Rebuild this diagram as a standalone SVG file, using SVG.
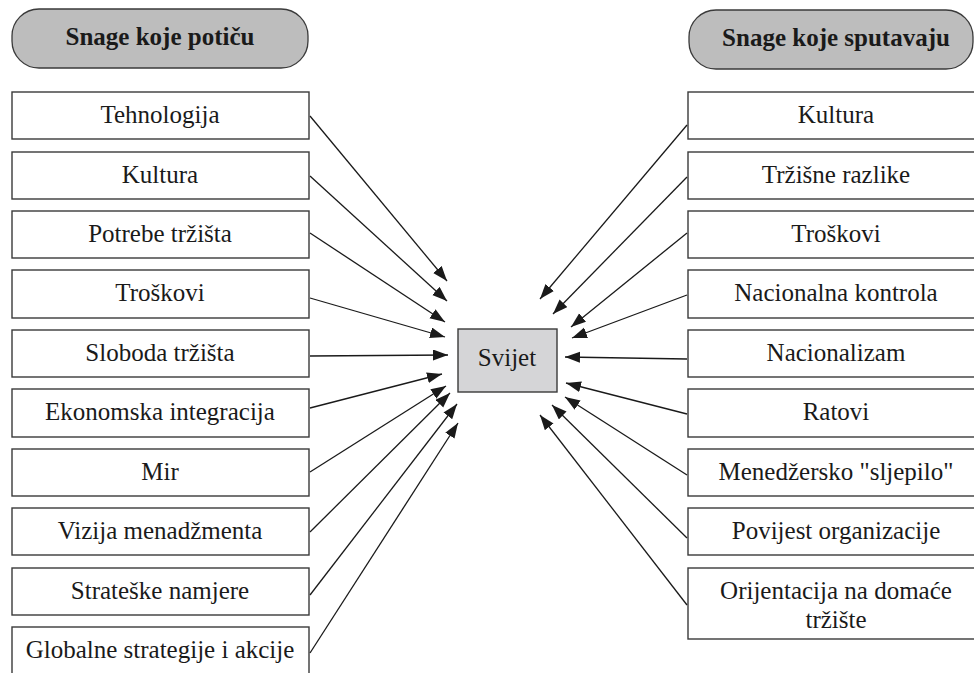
<svg xmlns="http://www.w3.org/2000/svg" width="974" height="673" viewBox="0 0 974 673">
<style>
.hdr{fill:#bdbdbd;stroke:#3a3a3a;stroke-width:1.3}
.hdrt{font-family:'Liberation Serif','Times New Roman','DejaVu Serif',serif;font-weight:bold;font-size:25px;fill:#1a1a1a;text-anchor:middle}
.box{fill:#fff;stroke:#3a3a3a;stroke-width:1.4}
.t{font-family:'Liberation Serif','Times New Roman','DejaVu Serif',serif;font-size:25px;fill:#1a1a1a;text-anchor:middle}
.ctr{fill:#d5d5d7;stroke:#3a3a3a;stroke-width:1.4}
.c line{stroke:#1a1a1a;stroke-width:1.3;marker-end:url(#ah)}
</style>
<defs>
<marker id="ah" markerUnits="userSpaceOnUse" markerWidth="16" markerHeight="12" refX="15" refY="5.5" orient="auto">
<path d="M0,0 L15,5.5 L0,11 z" fill="#1a1a1a"/>
</marker>
</defs>
<rect width="974" height="673" fill="#fff"/>
<g id="hdr-left"><rect class="hdr" x="12" y="9" width="296" height="59" rx="27"/><text class="hdrt" x="160" y="45">Snage koje potiču</text></g>
<g id="hdr-right"><rect class="hdr" x="689" y="10" width="284" height="59" rx="27"/><text class="hdrt" x="836" y="46">Snage koje sputavaju</text></g>
<g id="svijet"><rect class="ctr" x="458" y="329" width="99" height="63"/><text class="t" x="507" y="366">Svijet</text></g>
<g id="l1"><rect class="box" x="12" y="92" width="297" height="47"/><text class="t" x="160" y="123">Tehnologija</text></g>
<g id="l2"><rect class="box" x="12" y="152" width="297" height="47"/><text class="t" x="160" y="183">Kultura</text></g>
<g id="l3"><rect class="box" x="12" y="211" width="297" height="47"/><text class="t" x="160" y="242">Potrebe tržišta</text></g>
<g id="l4"><rect class="box" x="12" y="270" width="297" height="48"/><text class="t" x="160" y="301">Troškovi</text></g>
<g id="l5"><rect class="box" x="12" y="330" width="297" height="47"/><text class="t" x="160" y="361">Sloboda tržišta</text></g>
<g id="l6"><rect class="box" x="12" y="389" width="297" height="48"/><text class="t" x="160" y="420">Ekonomska integracija</text></g>
<g id="l7"><rect class="box" x="12" y="449" width="297" height="47"/><text class="t" x="160" y="480">Mir</text></g>
<g id="l8"><rect class="box" x="12" y="508" width="297" height="47"/><text class="t" x="160" y="539">Vizija menadžmenta</text></g>
<g id="l9"><rect class="box" x="12" y="568" width="297" height="47"/><text class="t" x="160" y="599">Strateške namjere</text></g>
<g id="l10"><rect class="box" x="12" y="627" width="297" height="60"/><text class="t" x="160" y="658">Globalne strategije i akcije</text></g>
<g id="r1"><rect class="box" x="688" y="92" width="300" height="47"/><text class="t" x="836" y="123">Kultura</text></g>
<g id="r2"><rect class="box" x="688" y="152" width="300" height="47"/><text class="t" x="836" y="183">Tržišne razlike</text></g>
<g id="r3"><rect class="box" x="688" y="211" width="300" height="47"/><text class="t" x="836" y="242">Troškovi</text></g>
<g id="r4"><rect class="box" x="688" y="270" width="300" height="48"/><text class="t" x="836" y="301">Nacionalna kontrola</text></g>
<g id="r5"><rect class="box" x="688" y="330" width="300" height="47"/><text class="t" x="836" y="361">Nacionalizam</text></g>
<g id="r6"><rect class="box" x="688" y="389" width="300" height="48"/><text class="t" x="836" y="420">Ratovi</text></g>
<g id="r7"><rect class="box" x="688" y="449" width="300" height="47"/><text class="t" x="836" y="480">Menedžersko "sljepilo"</text></g>
<g id="r8"><rect class="box" x="688" y="508" width="300" height="47"/><text class="t" x="836" y="539">Povijest organizacije</text></g>
<g id="r9"><rect class="box" x="688" y="568" width="300" height="71"/><text class="t" x="836" y="599">Orijentacija na domaće</text><text class="t" x="836" y="628">tržište</text></g>
<g id="connectors" class="c">
<line x1="310" y1="116" x2="447" y2="281"/>
<line x1="310" y1="176" x2="447" y2="301"/>
<line x1="310" y1="233" x2="445" y2="322"/>
<line x1="310" y1="298" x2="445" y2="337"/>
<line x1="310" y1="356" x2="448" y2="355"/>
<line x1="310" y1="408" x2="442" y2="374"/>
<line x1="310" y1="472" x2="446" y2="386"/>
<line x1="310" y1="532" x2="450" y2="393"/>
<line x1="310" y1="595" x2="457" y2="404"/>
<line x1="310" y1="653" x2="458" y2="423"/>
<line x1="687" y1="125" x2="540" y2="299"/>
<line x1="687" y1="177" x2="553" y2="314"/>
<line x1="687" y1="233" x2="571" y2="327"/>
<line x1="687" y1="295" x2="572" y2="338"/>
<line x1="687" y1="359" x2="565" y2="357"/>
<line x1="687" y1="414" x2="566" y2="383"/>
<line x1="687" y1="475" x2="565" y2="397"/>
<line x1="687" y1="538" x2="552" y2="405"/>
<line x1="687" y1="605" x2="540" y2="415"/>
</g>
</svg>
